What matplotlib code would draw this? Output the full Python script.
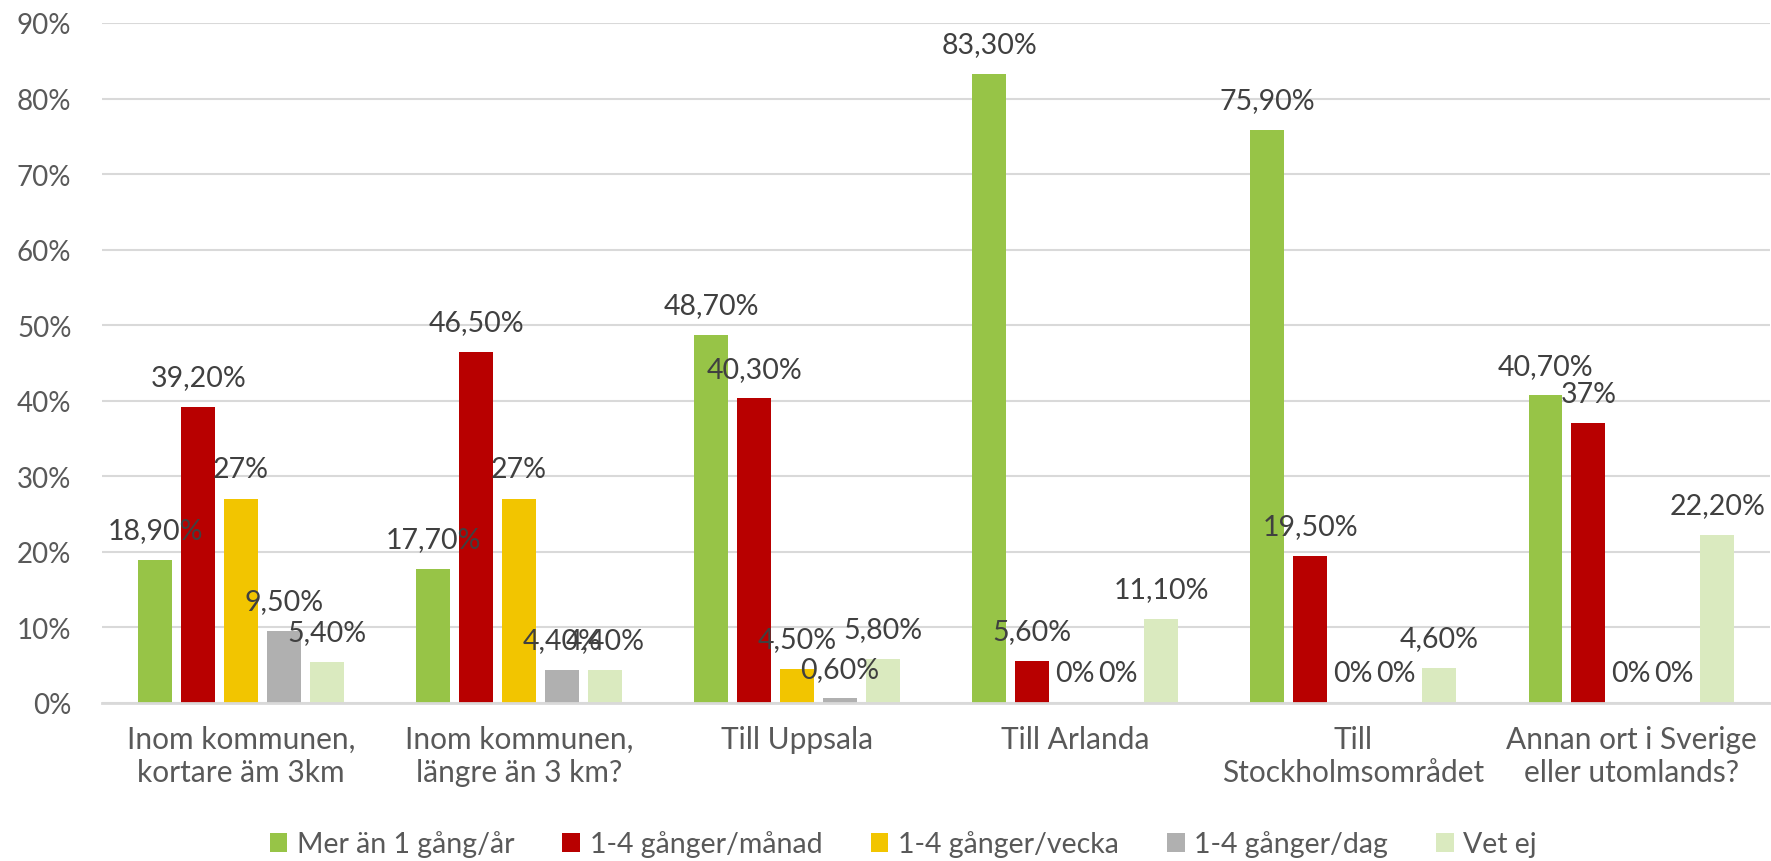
import matplotlib
matplotlib.use("Agg")
import matplotlib.pyplot as plt
import numpy as np

plt.rcParams['font.family'] = ['Lato', 'DejaVu Sans']

categories = ["Inom kommunen,\nkortare äm 3km", "Inom kommunen,\nlängre än 3 km?", "Till Uppsala",
              "Till Arlanda", "Till\nStockholmsområdet", "Annan ort i Sverige\neller utomlands?"]
series_names = ["Mer än 1 gång/år", "1-4 gånger/månad", "1-4 gånger/vecka", "1-4 gånger/dag", "Vet ej"]
mer_an_1_gang_ar = [18.9, 17.7, 48.7, 83.3, 75.9, 40.7]
ggr_manad = [39.2, 46.5, 40.3, 5.6, 19.5, 37.0]
ggr_vecka = [27.0, 27.0, 4.5, 0.0, 0.0, 0.0]
ggr_dag = [9.5, 4.4, 0.6, 0.0, 0.0, 0.0]
vet_ej = [5.4, 4.4, 5.8, 11.1, 4.6, 22.2]
label_texts = [
    ["18,90%", "17,70%", "48,70%", "83,30%", "75,90%", "40,70%"],
    ["39,20%", "46,50%", "40,30%", "5,60%", "19,50%", "37%"],
    ["27%", "27%", "4,50%", "0%", "0%", "0%"],
    ["9,50%", "4,40%", "0,60%", "0%", "0%", "0%"],
    ["5,40%", "4,40%", "5,80%", "11,10%", "4,60%", "22,20%"],
]
yticks = [0, 10, 20, 30, 40, 50, 60, 70, 80, 90]

series = [mer_an_1_gang_ar, ggr_manad, ggr_vecka, ggr_dag, vet_ej]
colors = ["#97C447", "#B80000", "#F2C500", "#B0B0B0", "#DAEABF"]
text_color = "#595959"

fig = plt.figure(figsize=(17.71, 8.62), dpi=100)
ax = fig.add_axes([0.0576, 0.1833, 0.942, 0.7889])

x = np.arange(len(categories))
step = 0.1543
width = 0.122
for i, (vals, name, col) in enumerate(zip(series, series_names, colors)):
    xs = x + (i - 2) * step
    bars = ax.bar(xs, vals, width=width, color=col, label=name, zorder=3)
    for j, (b, v) in enumerate(zip(bars, vals)):
        ax.annotate(label_texts[i][j], (b.get_x() + b.get_width() / 2, v),
                    xytext=(0, 21.5), textcoords="offset points",
                    ha="center", va="center", fontsize=20.5, color="#404040", zorder=4)

ax.set_xlim(-0.5, len(categories) - 0.5)
ax.set_ylim(0, 90)
ax.set_yticks(yticks)
ax.set_yticklabels([f"{t}%" for t in yticks])
ax.set_xticks(x)
ax.set_xticklabels(categories, linespacing=1.2)
ax.tick_params(axis="both", length=0, labelcolor=text_color)
ax.tick_params(axis="y", pad=22, labelsize=20)
ax.tick_params(axis="x", pad=16, labelsize=21.5)
ax.grid(axis="y", color="#D9D9D9", linewidth=1.5, zorder=0)
for s in ["top", "right", "left"]:
    ax.spines[s].set_visible(False)
ax.spines["bottom"].set_color("#D9D9D9")
ax.spines["bottom"].set_linewidth(2)
ax.spines["bottom"].set_zorder(5)

leg = fig.legend(loc="center", bbox_to_anchor=(0.51, 0.02), ncol=5, frameon=False,
                 fontsize=20.5, handlelength=0.63, handleheight=0.63, handletextpad=0.32,
                 columnspacing=1.7, labelcolor=text_color)

fig.savefig("out.png", dpi=100)
